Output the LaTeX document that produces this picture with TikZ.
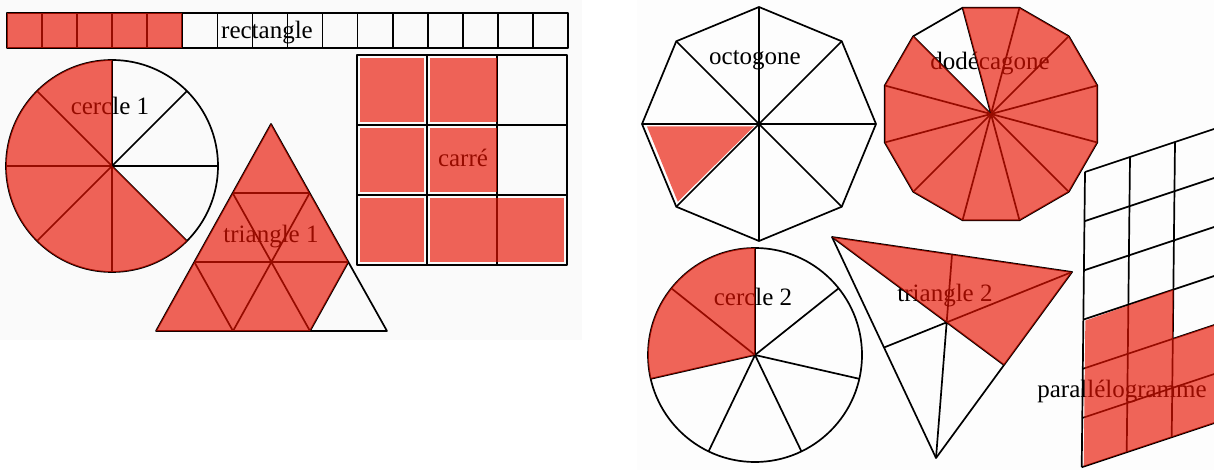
\documentclass[tikz,border=0pt]{standalone}
\usepackage{fontspec}
\setmainfont{Liberation Serif}
\usetikzlibrary{calc}
\definecolor{rd}{RGB}{233,18,0}
\begin{document}
\begin{tikzpicture}[x=1pt,y=-1pt,
  ln/.style={line width=1.7pt, line join=round},
  thk/.style={line width=2.4pt, line join=round},
  rf/.style={fill=rd, fill opacity=0.65, draw=none},
  lbl/.style={font=\fontsize{25}{30}\selectfont, inner sep=0pt, anchor=base}]
\useasboundingbox (0,0) rectangle (1214,470);
\fill[black!1.8] (0,0) rectangle (582,340);
\fill[black!0.8] (637,0) rectangle (1214,470);

% ---------- rectangle strip
\foreach \i in {0,...,15} \draw[ln] ({7+\i*35.0625},13) rectangle ++(35.0625,35);
\node[lbl] (lrect) at (267,39) {rectangle};
\fill[rf] (7,13) rectangle (182.3,48);

% ---------- cercle 1
\coordinate (c1) at (112,166);
\draw[ln] (c1) circle[radius=106];
\foreach \a in {0,45,...,315} \draw[ln] (c1) -- ++(\a:106);
\node[lbl] (lc1) at (110,115) {cercle 1};
\fill[rf] (c1) -- ++(-90:106) arc[start angle=-90, end angle=-315, radius=106] -- cycle;

% ---------- triangle 1
\coordinate (T1t) at (271,124);
\coordinate (T1l) at (156,331);
\coordinate (T1r) at (387,331);
\coordinate (b1) at ($(T1l)!1/3!(T1r)$);
\coordinate (b2) at ($(T1l)!2/3!(T1r)$);
\coordinate (l1) at ($(T1t)!1/3!(T1l)$);
\coordinate (l2) at ($(T1t)!2/3!(T1l)$);
\coordinate (r1) at ($(T1t)!1/3!(T1r)$);
\coordinate (r2) at ($(T1t)!2/3!(T1r)$);
\draw[ln] (T1t) -- (T1l) -- (T1r) -- cycle;
\draw[ln] (b1) -- (r1) (b2) -- (r2) (b2) -- (l1) (b1) -- (l2) (l2) -- (r2) (l1) -- (r1);
\node[lbl] (lt1) at (271,243) {triangle 1};
\fill[rf] (T1t) -- (T1l) -- (b2) -- (r2) -- cycle;

% ---------- carre
\draw[thk] (357,55) rectangle (567,265);
\draw[thk] (427,55) -- (427,265) (497,55) -- (497,265) (357,125) -- (567,125) (357,195) -- (567,195);
\node[lbl] (lca) at (463,167) {carré};
\fill[rf] (360,58) rectangle (424,122);
\fill[rf] (360,128) rectangle (424,192);
\fill[rf] (360,198) rectangle (424,262);
\fill[rf] (430,58) rectangle (497,122);
\fill[rf] (430,128) rectangle (497,192);
\fill[rf] (430,198) rectangle (564,262);

% ---------- octogone
\coordinate (oc) at (759,124);
\foreach \k in {0,...,7} \coordinate (ov\k) at ($(oc)+(-\k*45:117)$);
\draw[ln] (ov0) \foreach \k in {1,...,7}{ -- (ov\k)} -- cycle;
\foreach \k in {0,...,7} \draw[ln] (oc) -- (ov\k);
\node[lbl] (loc) at (755,65) {octogone};
\fill[rf] ($(oc)+(-5,2.5)$) -- ($(ov4)+(5,2.5)$) -- ($(ov5)+(1.5,-5)$) -- cycle;

% ---------- dodecagone
\coordinate (dc) at (991,114);
\foreach \k in {0,...,11} \coordinate (dv\k) at ($(dc)+(-15-\k*30:110)$);
\draw[ln] (dv0) \foreach \k in {1,...,11}{ -- (dv\k)} -- cycle;
\foreach \k in {0,...,11} \draw[ln] (dc) -- (dv\k);
\node[lbl] (ldo) at (990,70) {dodécagone};
\fill[rf] (dc) -- (dv4) -- (dv5) -- (dv6) -- (dv7) -- (dv8) -- (dv9) -- (dv10) -- (dv11) -- (dv0) -- (dv1) -- (dv2) -- (dv3) -- cycle;

% ---------- cercle 2
\coordinate (c2) at (755,355);
\draw[ln] (c2) circle[radius=107];
\foreach \k in {0,...,6} \draw[ln] (c2) -- ++({-90-\k*360/7}:107);
\node[lbl] (lc2) at (753,305) {cercle 2};
\fill[rf] (c2) -- ++(-90:107) arc[start angle=-90, end angle={-90-720/7}, radius=107] -- cycle;

% ---------- triangle 2
\coordinate (tA) at (832,237);
\coordinate (tB) at (1072,272);
\coordinate (tC) at (936,458);
\coordinate (mAB) at ($(tA)!0.5!(tB)$);
\coordinate (mBC) at ($(tB)!0.5!(tC)$);
\coordinate (mAC) at ($(tA)!0.5!(tC)$);
\draw[ln] (tA) -- (tB) -- (tC) -- cycle;
\draw[ln] (tA) -- (mBC) (tB) -- (mAC) (tC) -- (mAB);
\node[lbl] (lt2) at (945,301) {triangle 2};
\fill[rf] (tA) -- (tB) -- (mBC) -- cycle;

% ---------- parallelogramme
\begin{scope}
\clip (0,0) rectangle (1214,470);
\foreach \j in {0,...,6}
  \draw[ln] ({1085-0.55*\j},{172+49.2*\j}) -- ({1085+135-0.55*\j},{172-45+49.2*\j});
\foreach \i in {0,...,3}
  \draw[ln] ({1085+45*\i},{172-15*\i}) -- ({1085+45*\i-3.3},{172-15*\i+295.2});
\node[lbl] (lpa) at (1122,397) {parallélogramme};
\fill[rf] ({1085-0.55*3+2},{172+49.2*3+1}) -- ({1085+90-0.55*3},{172-30+49.2*3})
  -- ({1085+90-0.55*4},{172-30+49.2*4}) -- ({1085+135-0.55*4},{172-45+49.2*4})
  -- ({1085+135-0.55*6},{172-45+49.2*6}) -- ({1085-0.55*6+2},{172+49.2*6-1}) -- cycle;
\end{scope}
\end{tikzpicture}
\end{document}
